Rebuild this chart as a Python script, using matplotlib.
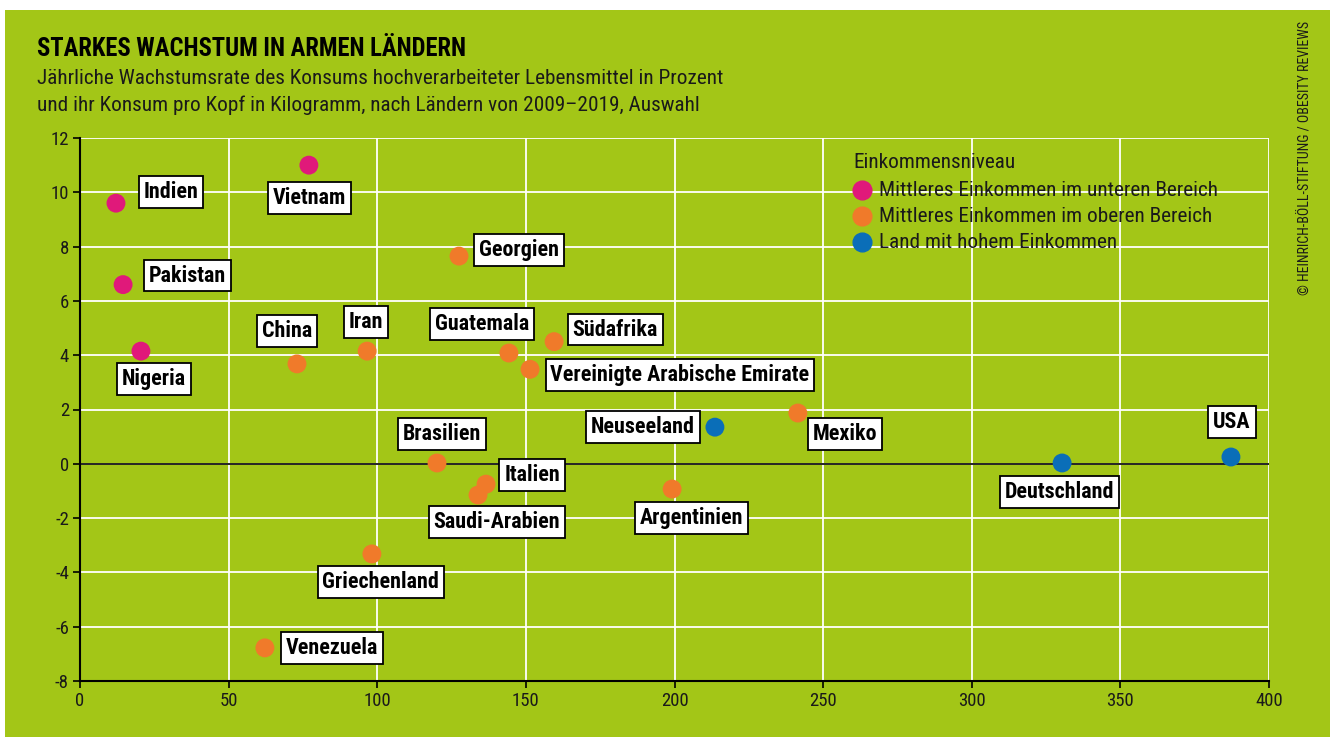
import matplotlib
matplotlib.use("Agg")
import matplotlib.pyplot as plt
from matplotlib.patches import Rectangle
from matplotlib.lines import Line2D

# ---- data ----
countries = ["Indien", "Vietnam", "Pakistan", "Nigeria", "China", "Iran", "Georgien",
             "Guatemala", "Südafrika", "Vereinigte Arabische Emirate", "Neuseeland",
             "Mexiko", "Brasilien", "Italien", "Saudi-Arabien", "Argentinien",
             "Griechenland", "Venezuela", "Deutschland", "USA"]
consumption_kg = [12.1, 77.0, 14.5, 20.5, 73.0, 96.6, 127.5, 144.3, 159.5, 151.4, 213.6,
                  241.5, 120.1, 136.6, 133.9, 199.2, 98.2, 62.2, 330.4, 387.2]
growth_pct = [9.6, 11.0, 6.6, 4.15, 3.68, 4.15, 7.65, 4.08, 4.5, 3.48, 1.35,
              1.87, 0.03, -0.75, -1.15, -0.93, -3.32, -6.78, 0.03, 0.25]
income_group = [0, 0, 0, 0, 1, 1, 1, 1, 1, 1, 2, 1, 1, 1, 1, 1, 1, 1, 2, 2]
group_names = ["Mittleres Einkommen im unteren Bereich",
               "Mittleres Einkommen im oberen Bereich",
               "Land mit hohem Einkommen"]
x_ticks = [0, 50, 100, 150, 200, 250, 300, 350, 400]
y_ticks = [-8, -6, -4, -2, 0, 2, 4, 6, 8, 10, 12]

# label offsets in pixels (dx right, dy down) from the point
label_offsets = [(55, -11), (1, 33), (64, -9), (13, 28), (-10, -33), (-1, -29), (60, -6),
                 (-27, -29), (61, -12), (150, 6), (-72, 0), (47, 21), (5, -29), (46, -9),
                 (19, 27), (19, 29), (9, 28), (67, 0), (-3, 29), (1, -35)]

GREEN = "#A3C617"
COLORS = ["#E0197A", "#F07A2A", "#0A6EB8"]
COND = ["Roboto Condensed", "Archivo Narrow", "Asap Condensed", "DejaVu Sans"]

W, H = 1330, 737
fig = plt.figure(figsize=(W / 100, H / 100), dpi=100)
fig.patch.set_facecolor("white")
fig.patches.append(Rectangle((5 / W, 0), 1 - 5 / W, (H - 10) / H, transform=fig.transFigure,
                             facecolor=GREEN, edgecolor="none", zorder=-10))

# axes: x 0..400 -> px 80..1269 ; y 12..-8 -> px 138..681
ax = fig.add_axes([80 / W, 1 - 681 / H, (1269 - 80) / W, (681 - 138) / H])
ax.set_facecolor("none")
ax.set_xlim(0, 400)
ax.set_ylim(-8, 12)
ax.set_xticks(x_ticks)
ax.set_yticks(y_ticks)
ax.set_xticklabels([str(v) for v in x_ticks], family=COND, fontsize=13.5)
ax.set_yticklabels([str(v) for v in y_ticks], family=COND, fontsize=13.5)
ax.grid(True, color="white", linewidth=1.3)
ax.set_axisbelow(True)
for s in ["top", "right"]:
    ax.spines[s].set_visible(False)
for s in ["left", "bottom"]:
    ax.spines[s].set_color("black")
    ax.spines[s].set_linewidth(1.5)
ax.tick_params(length=5, width=1.2, color="black", labelcolor="#1a1a1a", pad=3)
ax.axhline(0, color="black", linewidth=1.2, zorder=1)

for x, y, g in zip(consumption_kg, growth_pct, income_group):
    ax.scatter([x], [y], s=185, color=COLORS[g], edgecolors="none", zorder=3, clip_on=False)

for name, x, y, (dx, dy) in zip(countries, consumption_kg, growth_pct, label_offsets):
    ax.annotate(name, (x, y), xytext=(dx * 0.72, -dy * 0.72), textcoords="offset points",
                ha="center", va="center", fontsize=15.8, fontweight="heavy", family=COND,
                color="black", zorder=4,
                bbox=dict(boxstyle="square,pad=0.22", facecolor="white", edgecolor="black",
                          linewidth=1.3))

# legend
fig.text(853 / W, 1 - 163 / H, "Einkommensniveau", family=COND, fontsize=15.3,
         va="center", ha="left", color="#1a1a1a")
for i, gname in enumerate(group_names):
    yy = 1 - (190 + 26 * i) / H
    fig.add_artist(Line2D([862 / W], [yy], marker="o", markersize=13.5, color=COLORS[i],
                          linestyle="none", transform=fig.transFigure))
    fig.text(879 / W, yy, gname, family=COND, fontsize=15.3, va="center", ha="left",
             color="#1a1a1a")

# title
fig.text(37 / W, 1 - 49 / H, "STARKES WACHSTUM IN ARMEN LÄNDERN", family=COND,
         fontsize=17.7, fontweight="heavy", va="center", ha="left", color="black")
fig.text(37 / W, 1 - 79 / H,
         "Jährliche Wachstumsrate des Konsums hochverarbeiteter Lebensmittel in Prozent",
         family=COND, fontsize=15.3, va="center", ha="left", color="#1a1a1a")
fig.text(37 / W, 1 - 105 / H,
         "und ihr Konsum pro Kopf in Kilogramm, nach Ländern von 2009–2019, Auswahl",
         family=COND, fontsize=15.3, va="center", ha="left", color="#1a1a1a")

fig.text(1306 / W, 1 - 158 / H, "© HEINRICH-BÖLL-STIFTUNG / OBESITY REVIEWS",
         family=COND, fontsize=10, rotation=90, va="center", ha="center", color="#1a1a1a")

fig.savefig("out.png", dpi=100, facecolor="white")
